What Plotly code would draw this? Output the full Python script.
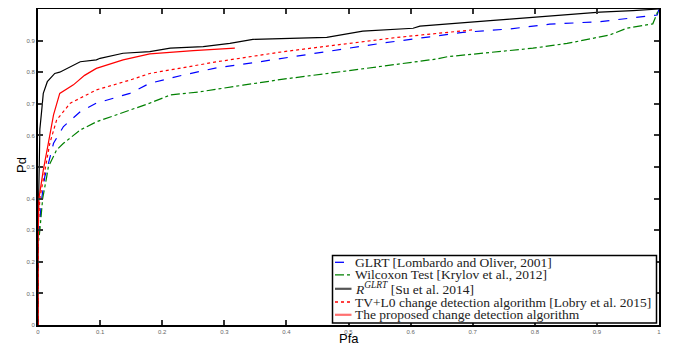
import plotly.graph_objects as go

# ---- data ----
glrt_pfa = [0, 0, 0.003, 0.006, 0.011, 0.014, 0.025, 0.041, 0.068, 0.094, 0.148, 0.180, 0.234, 0.288,
            0.357, 0.422, 0.470, 0.551, 0.631, 0.684, 0.760, 0.824, 0.905, 0.969, 0.997, 1.0]
glrt_pd = [0, 0.25, 0.33, 0.40, 0.47, 0.49, 0.575, 0.628, 0.675, 0.702, 0.733, 0.765, 0.791, 0.814,
           0.833, 0.852, 0.868, 0.891, 0.912, 0.926, 0.937, 0.952, 0.960, 0.974, 0.981, 1.0]

wil_pfa = [0, 0, 0.003, 0.0075, 0.014, 0.0166, 0.030, 0.041, 0.068, 0.094, 0.148, 0.180, 0.213, 0.261,
           0.330, 0.395, 0.470, 0.535, 0.578, 0.643, 0.659, 0.712, 0.760, 0.797, 0.852, 0.921, 0.948,
           0.990, 0.997, 1.0]
wil_pd = [0, 0.25, 0.30, 0.40, 0.469, 0.50, 0.554, 0.575, 0.617, 0.643, 0.680, 0.702, 0.728, 0.738,
          0.759, 0.778, 0.797, 0.814, 0.825, 0.842, 0.849, 0.860, 0.870, 0.876, 0.891, 0.918, 0.939,
          0.953, 0.987, 1.0]

rglrt_pfa = [0, 0, 0.002, 0.003, 0.006, 0.0085, 0.015, 0.027, 0.035, 0.045, 0.057, 0.068, 0.094, 0.1,
             0.137, 0.164, 0.18, 0.213, 0.266, 0.309, 0.346, 0.406, 0.465, 0.523, 0.604, 0.615, 0.684,
             0.728, 0.76, 0.824, 0.905, 0.958, 0.997, 1.0]
rglrt_pd = [0, 0.3, 0.5, 0.62, 0.68, 0.733, 0.77, 0.796, 0.80, 0.81, 0.823, 0.833, 0.839, 0.844,
            0.86, 0.862, 0.865, 0.876, 0.881, 0.891, 0.904, 0.907, 0.910, 0.930, 0.939, 0.946, 0.955,
            0.963, 0.968, 0.978, 0.990, 0.995, 1.0, 1.0]

tvl0_pfa = [0, 0, 0.003, 0.011, 0.019, 0.030, 0.052, 0.094, 0.148, 0.18, 0.229, 0.288, 0.395, 0.470,
            0.578, 0.70]
tvl0_pd = [0, 0.3, 0.4, 0.49, 0.575, 0.649, 0.702, 0.744, 0.775, 0.796, 0.812, 0.833, 0.865, 0.884,
           0.910, 0.934]

prop_pfa = [0, 0, 0.0015, 0.005, 0.0085, 0.0166, 0.025, 0.035, 0.057, 0.075, 0.094, 0.137, 0.18, 0.25,
            0.317]
prop_pd = [0, 0.25, 0.4, 0.45, 0.49, 0.575, 0.665, 0.733, 0.76, 0.79, 0.812, 0.839, 0.858, 0.868, 0.876]

names = [
    "GLRT [Lombardo and Oliver, 2001]",
    "Wilcoxon Test [Krylov et al., 2012]",
    "<i>R</i><sup><i>GLRT</i></sup> [Su et al. 2014]",
    "TV+L0 change detection algorithm [Lobry et al. 2015]",
    "The proposed change detection algorithm",
]
axis_ticks = [0, 0.1, 0.2, 0.3, 0.4, 0.5, 0.6, 0.7, 0.8, 0.9, 1]
tick_text = ["0", "0.1", "0.2", "0.3", "0.4", "0.5", "0.6", "0.7", "0.8", "0.9", "1"]

series = [
    (glrt_pfa, glrt_pd, "#0000ff", "dash"),
    (wil_pfa, wil_pd, "#008000", "dashdot"),
    (rglrt_pfa, rglrt_pd, "#000000", "solid"),
    (tvl0_pfa, tvl0_pd, "#ff0000", "dot"),
    (prop_pfa, prop_pd, "#ff0000", "solid"),
]

# the page adds an 8px body margin, so the figure is offset by 8px
OFF = 8
W, H = 677 - OFF, 348 - OFF
ML, MT = 38 - OFF, 9 - OFF
PW, PH = 621, 316
MR, MB = W - ML - PW, H - MT - PH


def px(x):  # reference screen pixel -> paper coordinate
    return (x - OFF - ML) / PW


def py(y):
    return (MT + PH - (y - OFF)) / PH


fig = go.Figure()
for (x, y, c, d), n in zip(series, names):
    fig.add_trace(go.Scatter(x=x, y=y, mode="lines", name=n, showlegend=False,
                             line=dict(color=c, dash=d, width=1.2)))

axis_common = dict(
    range=[0, 1], tickmode="array", tickvals=axis_ticks, ticktext=tick_text,
    ticks="inside", ticklen=5, tickwidth=1.5, tickcolor="#333",
    showline=True, linecolor="black", linewidth=2, mirror="ticks",
    showgrid=False, zeroline=False, automargin=False,
    tickfont=dict(size=6, color="#666", family="Liberation Sans"),
)

# manual legend (box, line samples, labels)
shapes = [dict(type="rect", xref="paper", yref="paper",
               x0=px(332.5), x1=px(656.5), y0=py(323), y1=py(255.5),
               fillcolor="white", line=dict(color="black", width=1.5), layer="above")]
row_y = [262.3, 274.8, 288.8, 302.0, 314.8]
sample_styles = [
    ("#0000ff", "dash", 1.3),
    ("#008000", "dashdot", 1.3),
    ("#555555", "solid", 2.2),
    ("#ff0000", "dot", 1.3),
    ("#ff7070", "solid", 2.2),
]
annotations = []
for ry, (c, d, w), n in zip(row_y, sample_styles, names):
    shapes.append(dict(type="line", xref="paper", yref="paper",
                       x0=px(335), x1=px(351.5), y0=py(ry), y1=py(ry),
                       line=dict(color=c, dash=d, width=w), layer="above"))
    annotations.append(dict(text=n, xref="paper", yref="paper", x=px(352.5), y=py(ry),
                            xanchor="left", yanchor="middle", showarrow=False,
                            font=dict(family="Liberation Serif", size=13.5, color="#222")))

annotations.append(dict(text="Pfa", xref="paper", yref="paper", x=px(349), y=py(338),
                        xanchor="center", yanchor="middle", showarrow=False,
                        font=dict(size=13, family="Liberation Sans", color="black")))
annotations.append(dict(text="Pd", xref="paper", yref="paper", x=px(21), y=py(165),
                        xanchor="center", yanchor="middle", showarrow=False, textangle=-90,
                        font=dict(size=13, family="Liberation Sans", color="black")))

fig.update_layout(
    width=W, height=H,
    margin=dict(l=ML, r=MR, t=MT, b=MB),
    paper_bgcolor="white", plot_bgcolor="white",
    xaxis=axis_common, yaxis=axis_common,
    shapes=shapes, annotations=annotations,
    showlegend=False,
)

fig.write_html("out.html")
